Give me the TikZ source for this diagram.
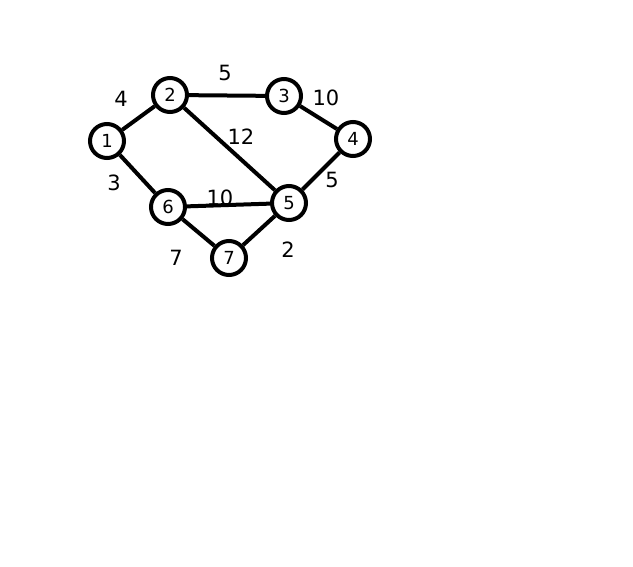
\documentclass[tikz,border=0pt]{standalone}
\usepackage{fontspec}
\setmainfont{DejaVu Sans}
\usepackage{tikz}
\usetikzlibrary{arrows.meta,positioning}

\begin{document}
\begin{tikzpicture}[x=1pt, y=-1pt,
    vertex/.style={circle, draw, line width=4pt, minimum size=34pt, inner sep=0pt, font=\fontsize{18}{18}\selectfont},
    edge/.style={line width=4pt},
    wt/.style={font=\fontsize{21}{21}\selectfont}]
    \useasboundingbox (0,0) rectangle (633,567);
    \node[vertex] (v1) at (107,141) {1};
    \node[vertex] (v2) at (170,95) {2};
    \node[vertex] (v3) at (284,96) {3};
    \node[vertex] (v4) at (353,139) {4};
    \node[vertex] (v5) at (289,203) {5};
    \node[vertex] (v6) at (168,207) {6};
    \node[vertex] (v7) at (229,258) {7};
    \draw[edge] (v1) -- (v2);
    \draw[edge] (v2) -- (v3);
    \draw[edge] (v3) -- (v4);
    \draw[edge] (v4) -- (v5);
    \draw[edge] (v2) -- (v5);
    \draw[edge] (v1) -- (v6);
    \draw[edge] (v6) -- (v5);
    \draw[edge] (v6) -- (v7);
    \draw[edge] (v7) -- (v5);
    \node[wt] (w12) at (121,99) {4};
    \node[wt] (w23) at (225,73) {5};
    \node[wt] (w34) at (326,98) {10};
    \node[wt] (w25) at (241,137) {12};
    \node[wt] (w16) at (114,183) {3};
    \node[wt] (w65) at (220,198) {10};
    \node[wt] (w45) at (332,180) {5};
    \node[wt] (w67) at (176,258) {7};
    \node[wt] (w75) at (288,250) {2};
\end{tikzpicture}
\end{document}
